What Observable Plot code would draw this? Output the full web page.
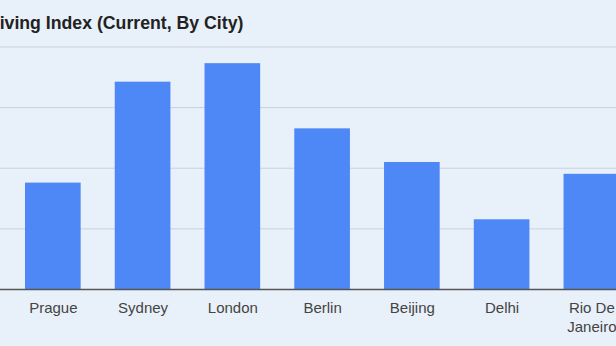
<!DOCTYPE html>
<html>
<head>
<meta charset="utf-8">
<script src="https://cdn.jsdelivr.net/npm/d3@7"></script>
<script src="https://cdn.jsdelivr.net/npm/@observablehq/plot@0.6"></script>
<style>
  html, body { margin: 0; padding: 0; background: #e8f0fa; }
  #wrap { position: relative; width: 616px; height: 346px; overflow: hidden; background: #e8f0fa; }
  #title { position: absolute; left: -77px; top: 13px; white-space: nowrap;
           font: bold 17.7px "Liberation Sans", Arial, sans-serif; color: #222; }
  #chart { position: absolute; left: 0; top: 0; }
</style>
</head>
<body>
<div id="wrap">
  <div id="title"></div>
  <div id="chart"></div>
</div>
<script>
const titleText = "Cost of Living Index (Current, By City)";
const cities = ["Prague", "Sydney", "London", "Berlin", "Beijing", "Delhi", "Rio De Janeiro"];
const values = [35.1, 68.4, 74.5, 53.0, 41.9, 23.0, 38.0];
const gridTicks = [20, 40, 60, 80];

document.getElementById("title").textContent = titleText;

const data = cities.map((c, i) => ({city: c, value: values[i]}));

const chart = Plot.plot({
  width: 616,
  height: 346,
  marginTop: 46.5,
  marginBottom: 57,
  marginLeft: 0,
  marginRight: 0,
  style: {background: "transparent", fontFamily: "'Liberation Sans', Arial, sans-serif", overflow: "hidden"},
  x: {domain: cities, range: [-9.1, 653.3], padding: 0.38, round: false, axis: null},
  y: {domain: [0, 80], axis: null},
  marks: [
    Plot.gridY(gridTicks, {stroke: "#c9d1da", strokeOpacity: 1, strokeWidth: 1}),
    Plot.barY(data, {x: "city", y: "value", fill: "#4e88f7"}),
    Plot.ruleY([0], {stroke: "#555", strokeWidth: 1.5}),
    Plot.axisX({label: null, tickSize: 0, tickPadding: 10, fontSize: 15, lineWidth: 5, lineHeight: 1.25, fill: "#444", textAnchor: "middle"})
  ]
});
document.getElementById("chart").appendChild(chart);
</script>
</body>
</html>
